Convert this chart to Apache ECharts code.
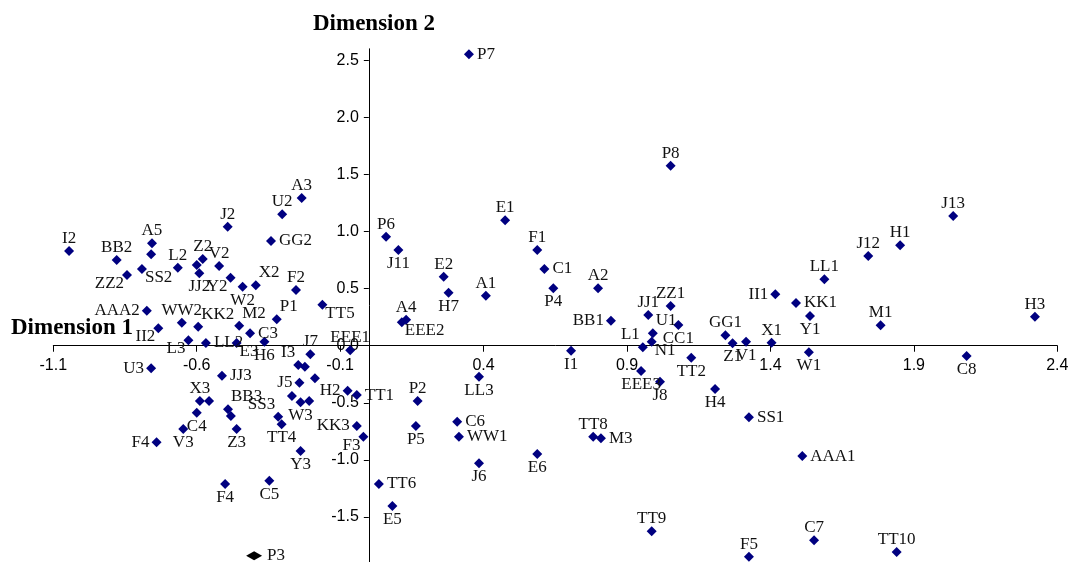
<!DOCTYPE html>
<html>
<head>
<meta charset="utf-8">
<script src="https://cdn.jsdelivr.net/npm/echarts@6.0.0/dist/echarts.min.js"></script>
<style>
html,body{margin:0;padding:0;background:#fff;}
#chart{width:1070px;height:562px;}
</style>
</head>
<body>
<div id="chart"></div>
<script>
// ---- data ----
const pointNames = [
 'I2','BB2','A5','','ZZ2','SS2','L2','Z2','','JJ2',
 'V2','J2','Y2','W2','X2','AAA2','WW2','II2','KK2','M2',
 'C3','L3','LL2','E3','H6','U3','JJ3','A3','U2','GG2',
 'F2','TT5','P1','EEE1','J7','I3','','P6','J11','E2',
 'H7','A1','E1','A4','EEE2','LL3','F1','C1','P4','A2',
 'BB1','I1','JJ1','ZZ1','U1','CC1','L1','N1','EEE3','J8',
 'TT2','GG1','Z1','V1','X1','II1','KK1','Y1','LL1','W1',
 'J12','H1','M1','J13','H3','C8','P8','P7','X3','',
 'C4','V3','F4','BB3','','SS3','TT4','Z3','F4','C5',
 'J5','','H2','TT1','W3','','','KK3','F3','Y3',
 'P2','P5','C6','WW1','J6','TT6','E5','H4','SS1','TT8',
 'M3','E6','TT9','F5','AAA1','C7','TT10'
];
const dim1 = [
 -1.045,-0.879,-0.756,-0.759,-0.843,-0.791,-0.666,-0.579,-0.600,-0.591,
 -0.522,-0.492,-0.482,-0.440,-0.394,-0.774,-0.652,-0.734,-0.595,-0.452,
 -0.414,-0.629,-0.568,-0.461,-0.364,-0.759,-0.512,-0.234,-0.302,-0.341,
 -0.254,-0.162,-0.321,-0.065,-0.204,-0.246,-0.223,0.060,0.103,0.261,
 0.278,0.408,0.475,0.130,0.115,0.384,0.587,0.612,0.643,0.799,
 0.844,0.705,0.974,1.052,0.990,1.079,0.955,0.986,0.949,1.015,
 1.124,1.243,1.268,1.315,1.404,1.417,1.489,1.538,1.588,1.534,
 1.741,1.852,1.784,2.037,2.322,2.084,1.052,0.349,-0.589,-0.557,
 -0.600,-0.647,-0.740,-0.491,-0.481,-0.316,-0.304,-0.461,-0.501,-0.347,
 -0.242,-0.188,-0.074,-0.042,-0.238,-0.268,-0.208,-0.042,-0.019,-0.238,
 0.170,0.164,0.308,0.314,0.384,0.035,0.082,1.207,1.325,0.782,
 0.809,0.587,0.986,1.325,1.511,1.552,1.840
];
const dim2 = [
 0.829,0.750,0.897,0.800,0.619,0.672,0.683,0.759,0.707,0.634,
 0.698,1.042,0.595,0.517,0.529,0.306,0.201,0.152,0.166,0.175,
 0.109,0.047,0.024,0.024,0.035,-0.198,-0.263,1.293,1.151,0.917,
 0.488,0.359,0.231,-0.040,-0.075,-0.169,-0.184,0.954,0.838,0.604,
 0.464,0.438,1.098,0.228,0.205,-0.271,0.838,0.672,0.503,0.503,
 0.219,-0.044,0.269,0.348,0.109,0.181,-0.014,0.035,-0.222,-0.315,
 -0.105,0.091,0.021,0.035,0.026,0.450,0.374,0.260,0.581,-0.058,
 0.785,0.879,0.179,1.136,0.254,-0.090,1.576,2.552,-0.484,-0.484,
 -0.587,-0.729,-0.846,-0.557,-0.616,-0.622,-0.688,-0.729,-1.211,-1.182,
 -0.324,-0.285,-0.394,-0.432,-0.496,-0.440,-0.484,-0.703,-0.797,-0.922,
 -0.484,-0.703,-0.665,-0.797,-1.030,-1.211,-1.404,-0.379,-0.627,-0.797,
 -0.811,-0.948,-1.625,-1.848,-0.966,-1.704,-1.806
];
const markedNames = ['P3'];
const markedDim1 = [-0.400];
const markedDim2 = [-1.839];

const xTicks = [-1.1,-0.6,-0.1,0.4,0.9,1.4,1.9,2.4];
const yTicks = [-1.5,-1.0,-0.5,0.0,0.5,1.0,1.5,2.0,2.5];
const xRange = [-1.1, 2.4];
const yRange = [-1.9, 2.6];

// ---- label placement (style, kept apart from the values) ----
const labelSide = [
 't','t','t','','bl','br','t','t','','b',
 't','t','bl','b','tr','l','t','bl','tr','tr',
 'r','bl','r','br','b','l','r','t','t','r',
 't','br','tr','t','t','tl','','t','b','t',
 'b','t','t','t','br','b','t','r','b','t',
 'l','b','t','t','tr','b','tl','br','b','b',
 'b','t','b','b','t','l','r','b','t','b',
 't','t','t','t','t','b','t','r','t','',
 'b','b','l','tr','','tl','b','b','b','b',
 'l','','l','r','b','','','l','bl','b',
 't','b','r','r','b','r','b','b','r','t',
 'r','b','t','t','r','t','t'
];
const sideMap = {
 t:  {position:[5,1],  align:'center', verticalAlign:'bottom'},
 b:  {position:[5,10], align:'center', verticalAlign:'top'},
 l:  {position:[-2,5], align:'right',  verticalAlign:'middle'},
 r:  {position:[13,5], align:'left',   verticalAlign:'middle'},
 tl: {position:[2,1],  align:'right',  verticalAlign:'bottom'},
 tr: {position:[8,1],  align:'left',   verticalAlign:'bottom'},
 bl: {position:[2,5],  align:'right',  verticalAlign:'top'},
 br: {position:[8,5],  align:'left',   verticalAlign:'top'},
 wideR: {position:[21,4.5], align:'left', verticalAlign:'middle'}
};

const mainData = pointNames.map((n, i) => {
  const side = sideMap[labelSide[i]] || sideMap.t;
  return {
    name: n,
    value: [dim1[i], dim2[i]],
    label: Object.assign({show: n !== ''}, side)
  };
});
const markedData = markedNames.map((n, i) => ({
  name: n, value: [markedDim1[i], markedDim2[i]],
  label: Object.assign({show: true}, sideMap.wideR)
}));

// grid geometry
const G = {left: 53.3, width: 1004, top: 48.8, height: 513.9};
// move each axis onto the other axis' zero (via offset from the grid edge)
const yAxisOffset = -(0 - xRange[0]) / (xRange[1] - xRange[0]) * G.width;
const xAxisOffset = -(0 - yRange[0]) / (yRange[1] - yRange[0]) * G.height;

const chart = echarts.init(document.getElementById('chart'), null, {renderer: 'canvas'});
const axisFont = {fontFamily: 'Liberation Sans, Arial, sans-serif', fontSize: 16, color: '#000'};
chart.setOption({
  animation: false,
  backgroundColor: '#fff',
  grid: Object.assign({containLabel: false, outerBoundsMode: 'none'}, G),
  xAxis: {
    type: 'value', min: xRange[0], max: xRange[1], position: 'bottom', offset: xAxisOffset,
    axisLine: {show: true, onZero: false, lineStyle: {color: '#000', width: 1}},
    axisTick: {show: true, inside: false, length: 6, customValues: xTicks, lineStyle: {color: '#000', width: 1}},
    axisLabel: Object.assign({customValues: xTicks, margin: 12, formatter: v => Number(v).toFixed(1)}, axisFont),
    splitLine: {show: false}
  },
  yAxis: {
    type: 'value', min: yRange[0], max: yRange[1], position: 'left', offset: yAxisOffset,
    axisLine: {show: true, onZero: false, lineStyle: {color: '#000', width: 1}},
    axisTick: {show: true, inside: false, length: 5, customValues: yTicks, lineStyle: {color: '#000', width: 1}},
    axisLabel: Object.assign({customValues: yTicks, margin: 10, formatter: v => Number(v).toFixed(1)}, axisFont),
    splitLine: {show: false}
  },
  graphic: [
    {type: 'text', x: 374, y: 24, silent: true,
     style: {text: 'Dimension 2', font: 'bold 23px "Liberation Serif", serif', fill: '#000',
             align: 'center', verticalAlign: 'middle', textAlign: 'center', textVerticalAlign: 'middle'}},
    {type: 'text', x: 11, y: 328.5, silent: true,
     style: {text: 'Dimension 1', font: 'bold 23px "Liberation Serif", serif', fill: '#000',
             align: 'left', verticalAlign: 'middle', textAlign: 'left', textVerticalAlign: 'middle'}}
  ],
  series: [
    {
      type: 'scatter', symbol: 'diamond', symbolSize: 10, clip: false, silent: true,
      itemStyle: {color: '#000080', opacity: 1},
      label: {show: true, formatter: '{b}', fontFamily: '"Liberation Serif", serif', fontSize: 17, color: '#111'},
      emphasis: {disabled: true},
      data: mainData
    },
    {
      type: 'scatter', symbol: 'diamond', symbolSize: [16, 9], clip: false, silent: true,
      itemStyle: {color: '#000', opacity: 1},
      label: {show: true, formatter: '{b}', fontFamily: '"Liberation Serif", serif', fontSize: 17, color: '#111'},
      emphasis: {disabled: true},
      data: markedData
    }
  ]
});
</script>
</body>
</html>
